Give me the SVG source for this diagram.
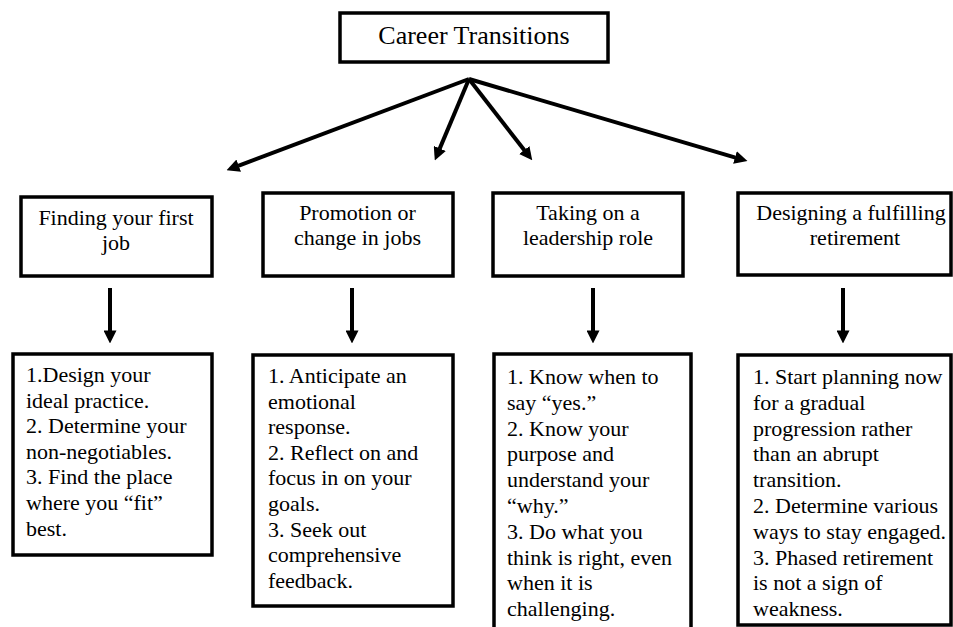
<svg xmlns="http://www.w3.org/2000/svg" width="953" height="627" viewBox="0 0 953 627">
<style>
.box{fill:#fff;stroke:#000;stroke-width:3.5}
.t{font-size:22px;fill:#000}
.c{text-anchor:middle}
.title{font-size:26px}
.ln{stroke:#000;stroke-width:4;fill:none}
</style>
<defs>
<marker id="ah" viewBox="0 0 12 12" refX="0.5" refY="6" markerWidth="13" markerHeight="13" markerUnits="userSpaceOnUse" orient="auto">
<path d="M0,0 L12,6 L0,12 z" fill="#000"/>
</marker>
</defs>
<rect width="953" height="627" fill="#fff"/>
<g id="connectors">
<line class="ln" x1="469" y1="79" x2="238.2" y2="165.8" marker-end="url(#ah)"/>
<line class="ln" x1="469" y1="79" x2="439.6" y2="148.9" marker-end="url(#ah)"/>
<line class="ln" x1="469" y1="79" x2="524.6" y2="150.5" marker-end="url(#ah)"/>
<line class="ln" x1="469" y1="79" x2="735.5" y2="157.6" marker-end="url(#ah)"/>
<line class="ln" x1="110" y1="288" x2="110" y2="331" marker-end="url(#ah)"/>
<line class="ln" x1="352" y1="288" x2="352" y2="331" marker-end="url(#ah)"/>
<line class="ln" x1="593" y1="288" x2="593" y2="331" marker-end="url(#ah)"/>
<line class="ln" x1="843" y1="288" x2="843" y2="331" marker-end="url(#ah)"/>
</g>
<g font-family="'Liberation Serif', Tinos, 'Times New Roman', Times, 'DejaVu Serif', serif">
<g id="root">
<rect class="box" x="340" y="13" width="268" height="49"/>
<text class="t c title" x="474" y="44">Career Transitions</text>
</g>
<g id="n1">
<rect class="box" x="21" y="197" width="191" height="79"/>
<text class="t c" x="116" y="225">Finding your first</text>
<text class="t c" x="116" y="250">job</text>
</g>
<g id="n2">
<rect class="box" x="263" y="193" width="190" height="83"/>
<text class="t c" x="357.5" y="220">Promotion or</text>
<text class="t c" x="357.5" y="245">change in jobs</text>
</g>
<g id="n3">
<rect class="box" x="493" y="193" width="190" height="83"/>
<text class="t c" x="588" y="220">Taking on a</text>
<text class="t c" x="588" y="245">leadership role</text>
</g>
<g id="n4">
<rect class="box" x="738" y="193" width="213" height="82"/>
<text class="t c" x="851" y="220">Designing a fulfilling</text>
<text class="t c" x="855" y="245">retirement</text>
</g>
<g id="d1">
<rect class="box" x="13" y="354" width="199" height="201"/>
<text class="t" x="26" y="382">1.Design your</text>
<text class="t" x="26" y="407.6">ideal practice.</text>
<text class="t" x="26" y="433.2">2. Determine your</text>
<text class="t" x="26" y="458.8">non-negotiables.</text>
<text class="t" x="26" y="484.4">3. Find the place</text>
<text class="t" x="26" y="510">where you “fit”</text>
<text class="t" x="26" y="535.6">best.</text>
</g>
<g id="d2">
<rect class="box" x="253" y="355" width="200" height="251"/>
<text class="t" x="268" y="383">1. Anticipate an</text>
<text class="t" x="268" y="408.6">emotional</text>
<text class="t" x="268" y="434.2">response.</text>
<text class="t" x="268" y="459.8">2. Reflect on and</text>
<text class="t" x="268" y="485.4">focus in on your</text>
<text class="t" x="268" y="511">goals.</text>
<text class="t" x="268" y="536.6">3. Seek out</text>
<text class="t" x="268" y="562.2">comprehensive</text>
<text class="t" x="268" y="587.8">feedback.</text>
</g>
<g id="d3">
<rect class="box" x="494" y="354" width="197" height="290"/>
<text class="t" x="507" y="384">1. Know when to</text>
<text class="t" x="507" y="409.8">say “yes.”</text>
<text class="t" x="507" y="435.6">2. Know your</text>
<text class="t" x="507" y="461.4">purpose and</text>
<text class="t" x="507" y="487.2">understand your</text>
<text class="t" x="507" y="513">“why.”</text>
<text class="t" x="507" y="538.8">3. Do what you</text>
<text class="t" x="507" y="564.6">think is right, even</text>
<text class="t" x="507" y="590.4">when it is</text>
<text class="t" x="507" y="616.2">challenging.</text>
</g>
<g id="d4">
<rect class="box" x="738" y="355" width="213" height="270"/>
<text class="t" x="753" y="384">1. Start planning now</text>
<text class="t" x="753" y="409.8">for a gradual</text>
<text class="t" x="753" y="435.6">progression rather</text>
<text class="t" x="753" y="461.4">than an abrupt</text>
<text class="t" x="753" y="487.2">transition.</text>
<text class="t" x="753" y="513">2. Determine various</text>
<text class="t" x="753" y="538.8">ways to stay engaged.</text>
<text class="t" x="753" y="564.6">3. Phased retirement</text>
<text class="t" x="753" y="590.4">is not a sign of</text>
<text class="t" x="753" y="616.2">weakness.</text>
</g>
</g>
</svg>
